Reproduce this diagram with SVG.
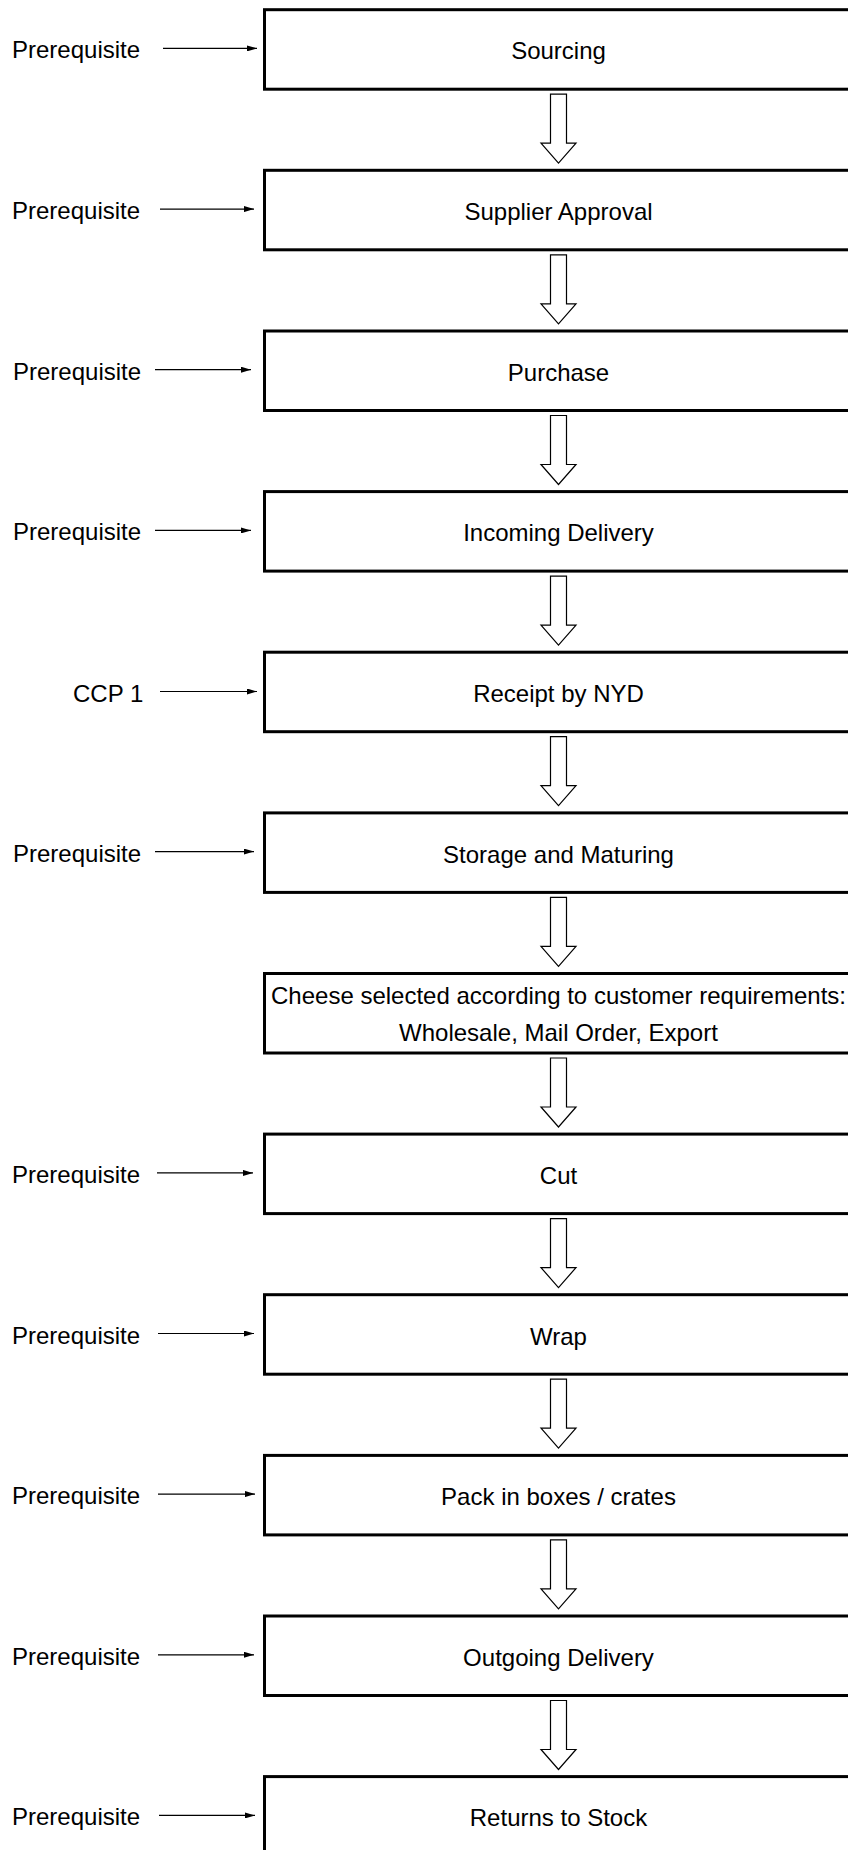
<svg xmlns="http://www.w3.org/2000/svg" width="848" height="1850" viewBox="0 0 848 1850">
<defs>
<style>
.box{fill:#fff;stroke:#000;stroke-width:3}
.t{font-family:"Liberation Sans",Arial,sans-serif;font-size:24px;fill:#000}
.c{text-anchor:middle}
.ln{stroke:#000;stroke-width:1.2;fill:none}
.blk{fill:#fff;stroke:#000;stroke-width:1.2;stroke-linejoin:miter}
</style>
<marker id="ah" viewBox="0 0 10 6" refX="10" refY="3" markerWidth="10" markerHeight="6" markerUnits="userSpaceOnUse" orient="auto">
<path d="M0,0 L10,3 L0,6 Z" fill="#000"/>
</marker>
<path id="blk" d="M550.5,0 L566.5,0 L566.5,49 L576,49 L558.5,69 L541,49 L550.5,49 Z"/>
</defs>
<rect width="848" height="1850" fill="#fff"/>

<g id="connectors">
<use href="#blk" class="blk" transform="translate(0,94.2)"/>
<use href="#blk" class="blk" transform="translate(0,254.8)"/>
<use href="#blk" class="blk" transform="translate(0,415.5)"/>
<use href="#blk" class="blk" transform="translate(0,576.1)"/>
<use href="#blk" class="blk" transform="translate(0,736.7)"/>
<use href="#blk" class="blk" transform="translate(0,897.4)"/>
<use href="#blk" class="blk" transform="translate(0,1058)"/>
<use href="#blk" class="blk" transform="translate(0,1218.6)"/>
<use href="#blk" class="blk" transform="translate(0,1379.2)"/>
<use href="#blk" class="blk" transform="translate(0,1539.9)"/>
<use href="#blk" class="blk" transform="translate(0,1700.5)"/>
<line class="ln" x1="163" y1="48.4" x2="257" y2="48.4" marker-end="url(#ah)"/>
<line class="ln" x1="160" y1="209.1" x2="254" y2="209.1" marker-end="url(#ah)"/>
<line class="ln" x1="155" y1="369.7" x2="251" y2="369.7" marker-end="url(#ah)"/>
<line class="ln" x1="155" y1="530.4" x2="251" y2="530.4" marker-end="url(#ah)"/>
<line class="ln" x1="160" y1="691.5" x2="257" y2="691.5" marker-end="url(#ah)"/>
<line class="ln" x1="155" y1="851.6" x2="254" y2="851.6" marker-end="url(#ah)"/>
<line class="ln" x1="157" y1="1172.9" x2="253" y2="1172.9" marker-end="url(#ah)"/>
<line class="ln" x1="158" y1="1333.5" x2="254" y2="1333.5" marker-end="url(#ah)"/>
<line class="ln" x1="158" y1="1494.1" x2="255" y2="1494.1" marker-end="url(#ah)"/>
<line class="ln" x1="158" y1="1654.8" x2="254" y2="1654.8" marker-end="url(#ah)"/>
<line class="ln" x1="159" y1="1815.4" x2="255" y2="1815.4" marker-end="url(#ah)"/>
</g>

<g id="n1"><rect class="box" x="264.5" y="9.7" width="600" height="79.5"/><text class="t c" x="558.5" y="59.4">Sourcing</text><text class="t" x="12" y="58.4">Prerequisite</text></g>
<g id="n2"><rect class="box" x="264.5" y="170.3" width="600" height="79.5"/><text class="t c" x="558.5" y="220.1">Supplier Approval</text><text class="t" x="12" y="219.1">Prerequisite</text></g>
<g id="n3"><rect class="box" x="264.5" y="331" width="600" height="79.5"/><text class="t c" x="558.5" y="380.7">Purchase</text><text class="t" x="13" y="379.7">Prerequisite</text></g>
<g id="n4"><rect class="box" x="264.5" y="491.6" width="600" height="79.5"/><text class="t c" x="558.5" y="541.4">Incoming Delivery</text><text class="t" x="13" y="540.4">Prerequisite</text></g>
<g id="n5"><rect class="box" x="264.5" y="652.2" width="600" height="79.5"/><text class="t c" x="558.5" y="702">Receipt by NYD</text><text class="t" x="73" y="701.5">CCP 1</text></g>
<g id="n6"><rect class="box" x="264.5" y="812.9" width="600" height="79.5"/><text class="t c" x="558.5" y="862.6">Storage and Maturing</text><text class="t" x="13" y="861.6">Prerequisite</text></g>
<g id="n7"><rect class="box" x="264.5" y="973.5" width="600" height="79.5"/><text class="t c" x="558.5" y="1003.5">Cheese selected according to customer requirements:</text><text class="t c" x="558.5" y="1040.5">Wholesale, Mail Order, Export</text></g>
<g id="n8"><rect class="box" x="264.5" y="1134.1" width="600" height="79.5"/><text class="t c" x="558.5" y="1183.9">Cut</text><text class="t" x="12" y="1182.9">Prerequisite</text></g>
<g id="n9"><rect class="box" x="264.5" y="1294.7" width="600" height="79.5"/><text class="t c" x="558.5" y="1344.5">Wrap</text><text class="t" x="12" y="1343.5">Prerequisite</text></g>
<g id="n10"><rect class="box" x="264.5" y="1455.4" width="600" height="79.5"/><text class="t c" x="558.5" y="1505.1">Pack in boxes / crates</text><text class="t" x="12" y="1504.1">Prerequisite</text></g>
<g id="n11"><rect class="box" x="264.5" y="1616" width="600" height="79.5"/><text class="t c" x="558.5" y="1665.8">Outgoing Delivery</text><text class="t" x="12" y="1664.8">Prerequisite</text></g>
<g id="n12"><rect class="box" x="264.5" y="1776.6" width="600" height="79.5"/><text class="t c" x="558.5" y="1826.4">Returns to Stock</text><text class="t" x="12" y="1825.4">Prerequisite</text></g>
</svg>
